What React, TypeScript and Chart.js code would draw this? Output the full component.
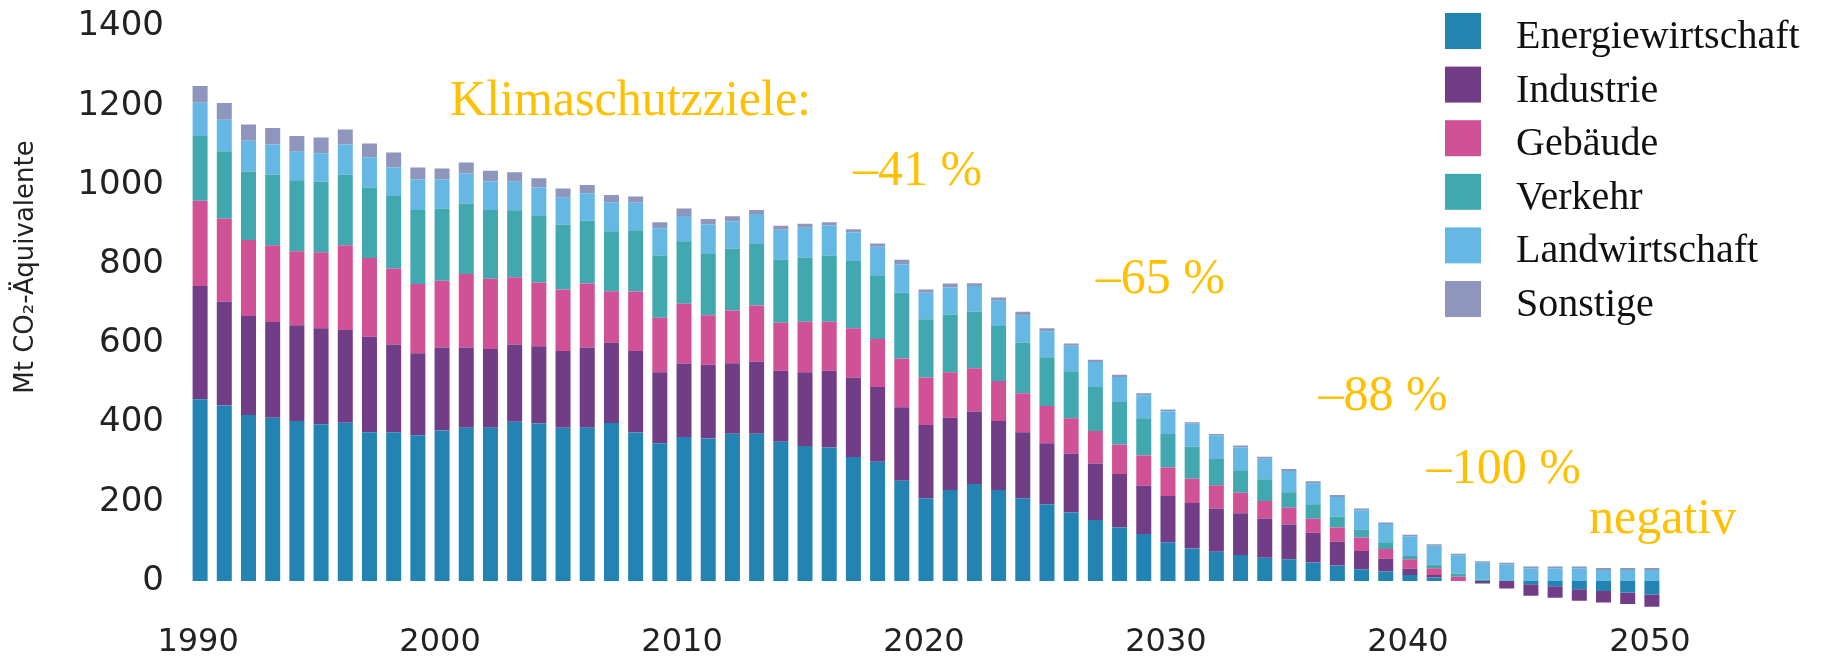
import React, { useEffect, useRef } from 'react';
import { Chart, registerables } from 'chart.js';

Chart.register(...registerables);

// ---------- DATA ----------
const YEARS = [
  '1990','1991','1992','1993','1994','1995','1996','1997','1998','1999',
  '2000','2001','2002','2003','2004','2005','2006','2007','2008','2009',
  '2010','2011','2012','2013','2014','2015','2016','2017','2018','2019',
  '2020','2021','2022','2023','2024','2025','2026','2027','2028','2029',
  '2030','2031','2032','2033','2034','2035','2036','2037','2038','2039',
  '2040','2041','2042','2043','2044','2045','2046','2047','2048','2049','2050',
];

const X_TICK_LABELS = ['1990', '2000', '2010', '2020', '2030', '2040', '2050'];
const Y_TICKS = [0, 200, 400, 600, 800, 1000, 1200, 1400];

const SERIES_NAMES = ['Energiewirtschaft', 'Industrie', 'Gebäude', 'Verkehr', 'Landwirtschaft', 'Sonstige'];

const ENERGIEWIRTSCHAFT = [
  459, 443, 419, 412, 404, 396, 400, 376, 376, 368,
  380, 387, 387, 402, 398, 387, 387, 399, 375, 348,
  364, 360, 372, 372, 352, 341, 337, 313, 301, 253,
  209, 230, 245, 230, 209, 194, 173, 154, 135, 119,
  98, 82, 74, 66, 59, 55, 47, 39, 30, 24,
  15, 9, 0, 0, 0, -8, -13, -21, -25, -29, -34,
];

const INDUSTRIE = [
  286, 263, 250, 242, 242, 242, 234, 241, 221, 207,
  210, 203, 199, 195, 195, 194, 203, 203, 206, 179,
  185, 186, 178, 182, 179, 186, 194, 201, 189, 186,
  185, 182, 183, 174, 167, 154, 149, 143, 135, 122,
  117, 115, 109, 105, 99, 88, 75, 60, 46, 32,
  16, 6, 0, -6, -19, -29, -29, -29, -29, -29, -31,
];

const GEBAEUDE = [
  215, 209, 192, 194, 187, 192, 214, 199, 192, 175,
  168, 185, 177, 170, 161, 155, 161, 130, 150, 138,
  151, 125, 133, 142, 121, 128, 124, 124, 121, 123,
  120, 115, 109, 101, 98, 94, 89, 82, 75, 76,
  72, 61, 59, 52, 44, 42, 35, 36, 34, 25,
  24, 17, 11, 0, 0, 0, 0, 0, 0, 0, 0,
];

const VERKEHR = [
  164, 170, 173, 178, 179, 178, 178, 178, 183, 187,
  183, 178, 174, 169, 168, 164, 159, 151, 155, 157,
  158, 157, 156, 155, 160, 162, 167, 170, 161, 166,
  147, 146, 143, 139, 128, 123, 119, 111, 107, 94,
  84, 82, 66, 57, 55, 39, 37, 28, 20, 17,
  8, 10, 8, 3, 0, 0, 0, 0, 0, 0, 0,
];

const LANDWIRTSCHAFT = [
  84, 80, 78, 76, 72, 72, 76, 76, 72, 77,
  73, 76, 72, 72, 72, 68, 69, 73, 69, 69,
  64, 73, 69, 76, 75, 75, 76, 72, 72, 72,
  67, 68, 65, 64, 68, 66, 64, 63, 63, 58,
  58, 57, 60, 57, 52, 54, 53, 49, 49, 46,
  50, 47, 46, 43, 42, 32, 32, 32, 28, 28, 28,
];

const SONSTIGE = [
  42, 42, 41, 42, 40, 40, 38, 35, 38, 30,
  28, 28, 27, 24, 23, 23, 21, 19, 16, 15,
  19, 13, 13, 10, 10, 10, 8, 8, 8, 11,
  8, 10, 7, 8, 10, 7, 6, 6, 6, 5,
  4, 4, 3, 5, 5, 5, 5, 5, 4, 4,
  4, 4, 4, 4, 4, 5, 5, 5, 5, 5, 5,
];

const ANNOTATION_TEXTS = ['Klimaschutzziele:', '–41 %', '–65 %', '–88 %', '–100 %', 'negativ'];
const Y_AXIS_TITLE = 'Mt CO₂-Äquivalente';

// ---------- LAYOUT / STYLE ----------
const COLORS = ['#2383B3', '#713D87', '#D15196', '#41A8AF', '#64B8E3', '#8E96BD'];
const ORANGE = '#FFC000';
// annotation anchors in data space: [category index, value]
const ANNOTATION_ANCHORS: [number, number][] = [
  [10.33, 1177], [26.98, 1000], [37.02, 727], [46.22, 432], [50.7, 247], [57.4, 121],
];

const overlayPlugin = {
  id: 'overlay',
  afterDraw(chart: any) {
    const ctx = chart.ctx;
    const xs = chart.scales.x;
    const ys = chart.scales.y;
    ctx.save();
    // y-axis title
    ctx.save();
    ctx.translate(26, 267);
    ctx.rotate(-Math.PI / 2);
    ctx.font = '26px "DejaVu Sans"';
    ctx.fillStyle = '#222';
    ctx.textAlign = 'center';
    ctx.textBaseline = 'middle';
    ctx.fillText(Y_AXIS_TITLE, 0, 0);
    ctx.restore();

    // annotations
    ctx.font = '50px "Liberation Serif"';
    ctx.fillStyle = ORANGE;
    ctx.textAlign = 'left';
    ctx.textBaseline = 'alphabetic';
    ANNOTATION_TEXTS.forEach((t, i) => {
      const [ci, v] = ANNOTATION_ANCHORS[i];
      const x0 = xs.getPixelForValue(Math.floor(ci));
      const x1 = xs.getPixelForValue(Math.floor(ci) + 1);
      const x = x0 + (x1 - x0) * (ci - Math.floor(ci));
      const y = ys.getPixelForValue(v);
      ctx.fillText(t, x, y);
    });

    // legend
    ctx.font = '40px "Liberation Serif"';
    ctx.textBaseline = 'alphabetic';
    chart.data.datasets.forEach((ds: any, i: number) => {
      const top = 13 + i * 53.6;
      ctx.fillStyle = ds.backgroundColor;
      ctx.fillRect(1445, top, 36, 36);
      ctx.fillStyle = '#111';
      ctx.fillText(ds.label, 1516, top + 35);
    });
    ctx.restore();
  },
};

export default function App() {
  const ref = useRef<HTMLCanvasElement | null>(null);
  useEffect(() => {
    if (!ref.current) return;
    const values = [ENERGIEWIRTSCHAFT, INDUSTRIE, GEBAEUDE, VERKEHR, LANDWIRTSCHAFT, SONSTIGE];
    const chart = new Chart(ref.current, {
      type: 'bar',
      data: {
        labels: YEARS,
        datasets: SERIES_NAMES.map((name, i) => ({
          label: name,
          data: values[i],
          backgroundColor: COLORS[i],
          borderWidth: 0,
          barPercentage: 0.62,
          categoryPercentage: 1,
        })),
      },
      options: {
        responsive: false,
        animation: false,
        events: [],
        layout: { padding: { left: 0, right: 159, top: 26.6, bottom: 0 } },
        plugins: { legend: { display: false }, tooltip: { enabled: false } },
        scales: {
          x: {
            stacked: true,
            grid: { display: false, drawTicks: false },
            border: { display: false },
            afterFit: (s: any) => { s.height = 44.3; s.paddingLeft = 0; s.paddingRight = 0; },
            ticks: {
              autoSkip: false,
              maxRotation: 0,
              minRotation: 0,
              padding: 9,
              labelOffset: -2,
              color: '#222',
              font: { family: '"DejaVu Sans"', size: 32 },
              callback: (_v: any, i: number) => (X_TICK_LABELS.includes(YEARS[i]) ? YEARS[i] : ''),
            },
          },
          y: {
            stacked: true,
            min: -85,
            max: 1400,
            grid: { display: false, drawTicks: false },
            border: { display: false },
            afterFit: (s: any) => { s.width = 188; s.paddingTop = 0; s.paddingBottom = 0; },
            ticks: {
              stepSize: 200,
              includeBounds: false,
              padding: 24,
              color: '#222',
              font: { family: '"DejaVu Sans"', size: 34 },
              callback: (v: any) => (Y_TICKS.includes(v) ? String(v) : ''),
            },
          },
        },
      },
      plugins: [overlayPlugin],
    });
    return () => chart.destroy();
  }, []);
  return (
    <div style={{ position: 'absolute', left: 0, top: 0, width: 1823, height: 659, background: '#fff' }}>
      <canvas ref={ref} width={1823} height={659} style={{ width: 1823, height: 659, display: 'block' }} />
    </div>
  );
}
